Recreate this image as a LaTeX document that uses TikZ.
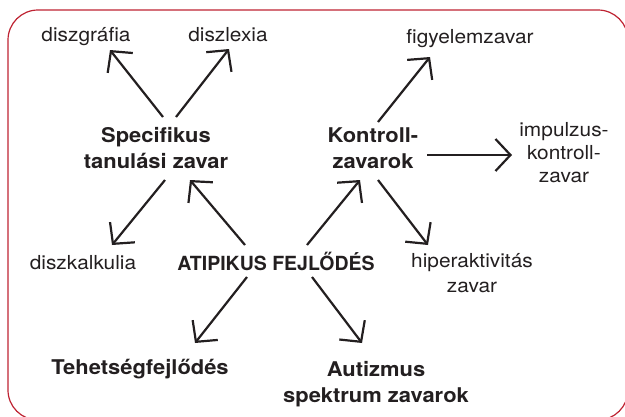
\documentclass[tikz,border=0pt]{standalone}
\usepackage{fontspec}
\setmainfont{TeX Gyre Heros}[FakeStretch=1.08]
\newfontfamily\plainheros{TeX Gyre Heros}
\usetikzlibrary{arrows.meta}
\definecolor{ink}{RGB}{35,31,32}
\definecolor{framered}{RGB}{190,35,50}
\tikzset{
  lbl/.style={inner sep=0pt, align=center, text=ink, font=\fontsize{19.3}{25}\selectfont},
  blbl/.style={lbl, font=\fontsize{20.3}{26}\selectfont\bfseries},
  arr/.style={draw=ink, line width=2.2pt, -{Straight Barb[length=15pt,width=32pt,line width=2.2pt]}},
  frame/.style={draw=framered, line width=1.2pt, rounded corners=30pt}
}
\begin{document}
\begin{tikzpicture}[x=1pt,y=-1pt]
\useasboundingbox (0,0) rectangle (625,416);
\clip (0,0) rectangle (625,416);
\draw[frame] (8,10) rectangle (628,420);

\node[lbl] (dg) at (86,37) {diszgráfia};
\node[lbl] (dl) at (228,35) {diszlexia};
\node[blbl] (spec) at (156,148) {Specifikus\\tanulási zavar};
\node[lbl] (fig) at (470,39) {figyelemzavar};
\node[blbl] (kon) at (373,148) {Kontroll-\\zavarok};
\node[lbl, font=\fontsize{19.3}{23}\selectfont] (imp) at (564,153) {impulzus-\\kontroll-\\zavar};
\node[lbl] (dk) at (83,263) {diszkalkulia};
\node[blbl, font=\plainheros\fontsize{19.5}{25}\selectfont\bfseries] (ati) at (276,261) {ATIPIKUS FEJLŐDÉS};
\node[lbl] (hip) at (472,273) {hiperaktivitás\\zavar};
\node[blbl] (teh) at (140,369) {Tehetségfejlődés};
\node[blbl] (aut) at (376,384) {Autizmus\\spektrum zavarok};

\draw[arr] ([shift={(7,-31)}]spec.center) -- ([shift={(24,13)}]dg.center);
\draw[arr] ([shift={(20,-31)}]spec.center) -- ([shift={(1,14)}]dl.center);
\draw[arr] ([shift={(-31,-16)}]ati.center) -- ([shift={(34,32)}]spec.center);
\draw[arr] ([shift={(9,32)}]spec.center) -- ([shift={(29,-18)}]dk.center);
\draw[arr] ([shift={(-29,16)}]ati.center) -- ([shift={(55,-26)}]teh.center);
\draw[arr] ([shift={(36,16)}]ati.center) -- ([shift={(-14,-41)}]aut.center);
\draw[arr] ([shift={(31,-16)}]ati.center) -- ([shift={(-13,32)}]kon.center);
\draw[arr] ([shift={(5,32)}]kon.center) -- ([shift={(-44,-28)}]hip.center);
\draw[arr] ([shift={(5,-26)}]kon.center) -- ([shift={(-40,18)}]fig.center);
\draw[arr] ([shift={(54,7)}]kon.center) -- ([shift={(-52,2)}]imp.center);
\end{tikzpicture}
\end{document}
